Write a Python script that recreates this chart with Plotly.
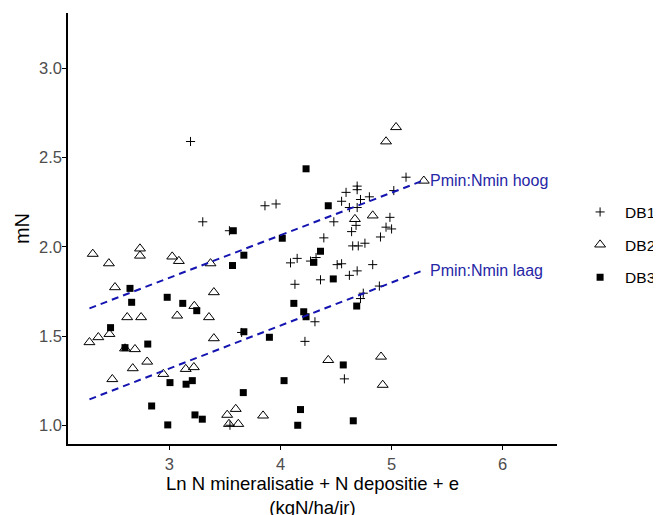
import plotly.graph_objects as go

# ---- data ----
db1_x = [3.19, 3.86, 3.96, 3.30, 3.54, 3.65, 3.545, 4.22, 4.31, 4.13, 4.09, 4.15, 4.27, 4.32,
         4.36, 4.39, 4.48, 4.55, 4.59, 4.69, 4.69, 4.62, 4.69, 4.72, 4.80, 5.02, 5.13, 4.68,
         4.64, 4.65, 4.70, 4.76, 4.90, 4.985, 4.95, 5.00, 4.51, 4.55, 4.83, 4.62, 4.69, 4.89,
         4.745, 4.72, 4.575]
db1_y = [2.59, 2.23, 2.24, 2.14, 2.09, 1.52, 1.00, 1.47, 1.58, 1.79, 1.91, 1.935, 1.92, 1.94,
         1.815, 2.05, 2.14, 2.255, 2.305, 2.34, 2.32, 2.22, 2.22, 2.265, 2.28, 2.315, 2.39, 2.12,
         2.085, 2.005, 2.005, 2.02, 2.055, 2.165, 2.11, 2.10, 1.90, 1.905, 1.90, 1.84, 1.865, 1.78,
         1.74, 1.71, 1.26]

db2_x = [5.04, 4.95, 5.29, 4.67, 4.83, 2.31, 2.455, 2.735, 2.735, 3.025, 3.085, 3.37, 2.51,
         3.40, 3.224, 2.62, 2.745, 3.07, 3.356, 2.28, 2.36, 2.46, 3.40, 2.69, 2.80, 2.67,
         2.486, 2.945, 3.147, 3.22, 3.52, 3.597, 3.62, 3.536, 3.843, 4.43, 4.905, 4.92, 2.60]
db2_y = [2.67, 2.59, 2.37, 2.155, 2.175, 1.96, 1.907, 1.99, 1.95, 1.945, 1.92, 1.907, 1.773,
         1.745, 1.668, 1.605, 1.605, 1.614, 1.605, 1.465, 1.493, 1.511, 1.487, 1.426, 1.356, 1.319,
         1.258, 1.287, 1.315, 1.325, 1.058, 1.091, 1.007, 1.007, 1.054, 1.365, 1.384, 1.226, 1.43]

db3_x = [4.23, 4.43, 3.575, 4.016, 3.67, 4.36, 3.568, 4.30, 4.475, 2.645, 2.66, 2.98, 3.12,
         3.246, 4.12, 4.209, 4.23, 4.686, 2.47, 2.60, 2.805, 3.67, 3.90, 3.005, 3.15, 3.206,
         2.84, 3.23, 3.296, 2.985, 3.665, 4.032, 4.565, 4.18, 4.155, 4.655]
db3_y = [2.437, 2.23, 2.09, 2.048, 1.953, 1.975, 1.895, 1.913, 1.82, 1.767, 1.689, 1.717, 1.683,
         1.642, 1.683, 1.636, 1.608, 1.668, 1.547, 1.435, 1.455, 1.524, 1.493, 1.239, 1.23, 1.25,
         1.108, 1.058, 1.034, 1.002, 1.183, 1.25, 1.338, 1.088, 1.0, 1.025]

line_x = [2.28, 5.28]
hoog_y = [1.655, 2.37]
laag_y = [1.145, 1.867]
line_labels = ["Pmin:Nmin hoog", "Pmin:Nmin laag"]
label_x = 5.33
label_y = [2.37, 1.867]

x_ticks = [3, 4, 5, 6]
y_ticks = [1.0, 1.5, 2.0, 2.5, 3.0]
y_ticklabels = ["1.0", "1.5", "2.0", "2.5", "3.0"]

FONT = "Liberation Sans, Arial, sans-serif"
BLUE_LINE = "#1414b0"
BLUE_TEXT = "#2626a6"

fig = go.Figure()
fig.add_trace(go.Scatter(x=db1_x, y=db1_y, mode="markers", name="DB1", legendgroup="a",
                         marker=dict(symbol="cross-thin-open", size=6.5, color="black",
                                     line=dict(width=1, color="black"))))
fig.add_trace(go.Scatter(x=db2_x, y=db2_y, mode="markers", name="DB2", legendgroup="b",
                         marker=dict(symbol="triangle-up-open", size=9.5, color="black",
                                     line=dict(width=1, color="black"))))
fig.add_trace(go.Scatter(x=db3_x, y=db3_y, mode="markers", name="DB3", legendgroup="c",
                         marker=dict(symbol="square", size=7, color="black",
                                     line=dict(width=0))))
for ys in (hoog_y, laag_y):
    fig.add_trace(go.Scatter(x=line_x, y=ys, mode="lines", showlegend=False, hoverinfo="skip",
                             line=dict(color=BLUE_LINE, width=2, dash="7px,5px")))

for txt, yy in zip(line_labels, label_y):
    fig.add_annotation(x=label_x, y=yy, text=txt, showarrow=False, xanchor="left",
                       yanchor="middle", font=dict(family=FONT, size=16, color=BLUE_TEXT))

# page body has an 8px margin, so the margins are shifted to compensate
fig.update_layout(
    width=661, height=515,
    margin=dict(l=60, r=112, t=5, b=79, autoexpand=False),
    paper_bgcolor="white", plot_bgcolor="white",
    font=dict(family=FONT, color="black"),
    legend=dict(x=1.037, xanchor="left", y=0.462, yanchor="middle",
                traceorder="grouped", tracegroupgap=9.5, itemwidth=40,
                font=dict(family=FONT, size=15.5, color="black"),
                bgcolor="rgba(0,0,0,0)"),
    xaxis=dict(range=[2.087, 6.489], tickvals=x_ticks, showgrid=False, zeroline=False,
               showline=True, linecolor="black", linewidth=1.5, automargin=False,
               ticks="outside", ticklen=4, tickwidth=1, tickcolor="black",
               tickfont=dict(family=FONT, size=16.5, color="#4d4d4d"),
               title=dict(text="Ln N mineralisatie + N depositie + e<br>(kgN/ha/jr)",
                          font=dict(family=FONT, size=18.5, color="black"), standoff=2)),
    yaxis=dict(range=[0.895, 3.31], tickvals=y_ticks, ticktext=y_ticklabels, showgrid=False,
               zeroline=False, showline=True, linecolor="black", linewidth=1.5, automargin=False,
               ticks="outside", ticklen=4, tickwidth=1, tickcolor="black", ticklabelstandoff=-3,
               tickfont=dict(family=FONT, size=16.5, color="#4d4d4d"),
               title=dict(text="mN", font=dict(family=FONT, size=20, color="black"), standoff=4)),
)

fig.write_html("out.html")
